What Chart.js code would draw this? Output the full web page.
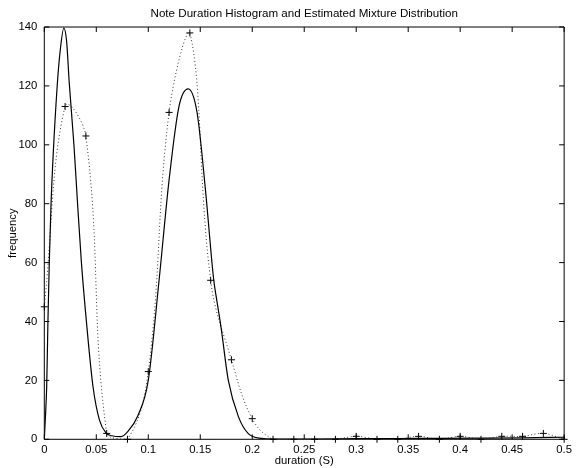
<!DOCTYPE html>
<html>
<head>
<meta charset="utf-8">
<script src="https://cdn.jsdelivr.net/npm/chart.js@4"></script>
<style>
  html, body { margin: 0; padding: 0; background: #fff; }
  #wrap { width: 576px; height: 468px; }
</style>
</head>
<body>
<div id="wrap"><canvas id="durationChart"></canvas></div>
<script>
// histogram bins (s) and counts
const histX = [0, 0.02, 0.04, 0.06, 0.08, 0.10, 0.12, 0.14, 0.16, 0.18, 0.20, 0.22, 0.24,
    0.26, 0.28, 0.30, 0.32, 0.34, 0.36, 0.38, 0.40, 0.42, 0.44, 0.46, 0.48, 0.50];
const histY = [45, 113, 103, 2, 0, 23, 111, 138, 54, 27, 7, 0, 0,
    0, 0, 1, 0, 0, 1, 0, 1, 0, 1, 1, 2, 0];

// estimated mixture curve
const mixX = [0, 0.001, 0.0023, 0.0035, 0.0048, 0.0064, 0.0086, 0.0124, 0.015, 0.0188,
    0.0215, 0.024, 0.0285, 0.032, 0.0357, 0.0405, 0.0468, 0.053, 0.0595, 0.065, 0.0738,
    0.08, 0.09, 0.1, 0.1104, 0.12, 0.1295, 0.1384, 0.147, 0.155, 0.163, 0.166, 0.17,
    0.177, 0.1867, 0.196, 0.209, 0.22, 0.26, 0.3, 0.36, 0.42, 0.46, 0.5];
const mixY = [0, 7, 18, 40, 60, 79, 97, 120, 131, 139.6,
    135, 121, 100, 80, 60, 40, 18, 6.6, 2.1, 1.2, 0.9,
    2.5, 8, 20, 54, 88, 113, 119, 110.8, 84.7, 54, 47, 38,
    20, 7.7, 2, 0.3, 0.1, 0.1, 0.2, 0.3, 0.4, 0.5, 0.7];

const xTicks = [0, 0.05, 0.1, 0.15, 0.2, 0.25, 0.3, 0.35, 0.4, 0.45, 0.5];
const xTickLabels = ["0", "0.05", "0.1", "0.15", "0.2", "0.25", "0.3", "0.35", "0.4", "0.45", "0.5"];
const yTicks = [0, 20, 40, 60, 80, 100, 120, 140];

const FONT = "'Liberation Sans', Arial, Helvetica, sans-serif";

function toPoints(xs, ys) {
    return xs.map(function (x, i) {
        return { x: x, y: ys[i] };
    });
}

// box round the axes with inward ticks on all four sides
const boxTicks = {
    id: "boxTicks",
    afterDraw: function (chart) {
        const ctx = chart.ctx;
        const a = chart.chartArea;
        const xs = chart.scales.x;
        const ys = chart.scales.y;
        const len = 5;
        ctx.save();
        ctx.strokeStyle = "#000";
        ctx.lineWidth = 1;
        ctx.beginPath();
        ctx.rect(a.left, a.top, a.right - a.left, a.bottom - a.top);
        xTicks.forEach(function (v) {
            const px = xs.getPixelForValue(v);
            ctx.moveTo(px, a.bottom);
            ctx.lineTo(px, a.bottom - len);
            ctx.moveTo(px, a.top);
            ctx.lineTo(px, a.top + len);
        });
        yTicks.forEach(function (v) {
            const py = ys.getPixelForValue(v);
            ctx.moveTo(a.left, py);
            ctx.lineTo(a.left + len, py);
            ctx.moveTo(a.right, py);
            ctx.lineTo(a.right - len, py);
        });
        ctx.stroke();
        ctx.restore();
    },
};

const ctx = document.getElementById("durationChart").getContext("2d");
new Chart(ctx, {
    type: "scatter",
    data: {
        datasets: [
            {
                label: "mixture",
                data: toPoints(mixX, mixY),
                showLine: true,
                borderColor: "#000",
                borderWidth: 1.2,
                pointRadius: 0,
                cubicInterpolationMode: "monotone",
            },
            {
                label: "histogram line",
                data: toPoints(histX, histY),
                showLine: true,
                borderColor: "#333",
                borderWidth: 1,
                borderDash: [1, 2.5],
                tension: 0.4,
                pointRadius: 0,
            },
            {
                label: "histogram",
                data: toPoints(histX, histY),
                showLine: false,
                pointStyle: "cross",
                pointRadius: 3.5,
                pointBorderWidth: 1,
                pointBorderColor: "#000",
                clip: false,
            },
        ],
    },
    options: {
        responsive: true,
        maintainAspectRatio: false,
        animation: false,
        layout: {
            padding: { top: 0, right: 7.5, bottom: 0, left: 0 },
        },
        plugins: {
            legend: { display: false },
            tooltip: { enabled: false },
            title: {
                display: true,
                fullSize: false,
                text: "Note Duration Histogram and Estimated Mixture Distribution",
                color: "#000",
                font: { family: FONT, size: 11.6, weight: "normal" },
                padding: { top: 7.1, bottom: 6 },
            },
        },
        scales: {
            x: {
                type: "linear",
                min: 0,
                max: 0.5,
                afterBuildTicks: function (scale) {
                    scale.ticks = xTicks.map(function (v) { return { value: v }; });
                },
                afterFit: function (scale) {
                    scale.height = 28.7;
                },
                ticks: {
                    color: "#000",
                    padding: 4,
                    maxRotation: 0,
                    autoSkip: false,
                    font: { family: FONT, size: 11.3 },
                    callback: function (value) {
                        const i = xTicks.indexOf(value);
                        return i >= 0 ? xTickLabels[i] : "";
                    },
                },
                grid: { display: false, drawTicks: false },
                border: { display: false },
                title: {
                    display: true,
                    text: "duration (S)",
                    color: "#000",
                    font: { family: FONT, size: 11.3 },
                    padding: 0,
                },
            },
            y: {
                min: 0,
                max: 140,
                afterBuildTicks: function (scale) {
                    scale.ticks = yTicks.map(function (v) { return { value: v }; });
                },
                afterFit: function (scale) {
                    scale.width = 44.3;
                },
                ticks: {
                    color: "#000",
                    padding: 7,
                    font: { family: FONT, size: 11.3 },
                },
                grid: { display: false, drawTicks: false },
                border: { display: false },
                title: {
                    display: true,
                    text: "frequency",
                    color: "#000",
                    font: { family: FONT, size: 11.3 },
                    padding: { top: 6, bottom: 0 },
                },
            },
        },
    },
    plugins: [boxTicks],
});
</script>
</body>
</html>
